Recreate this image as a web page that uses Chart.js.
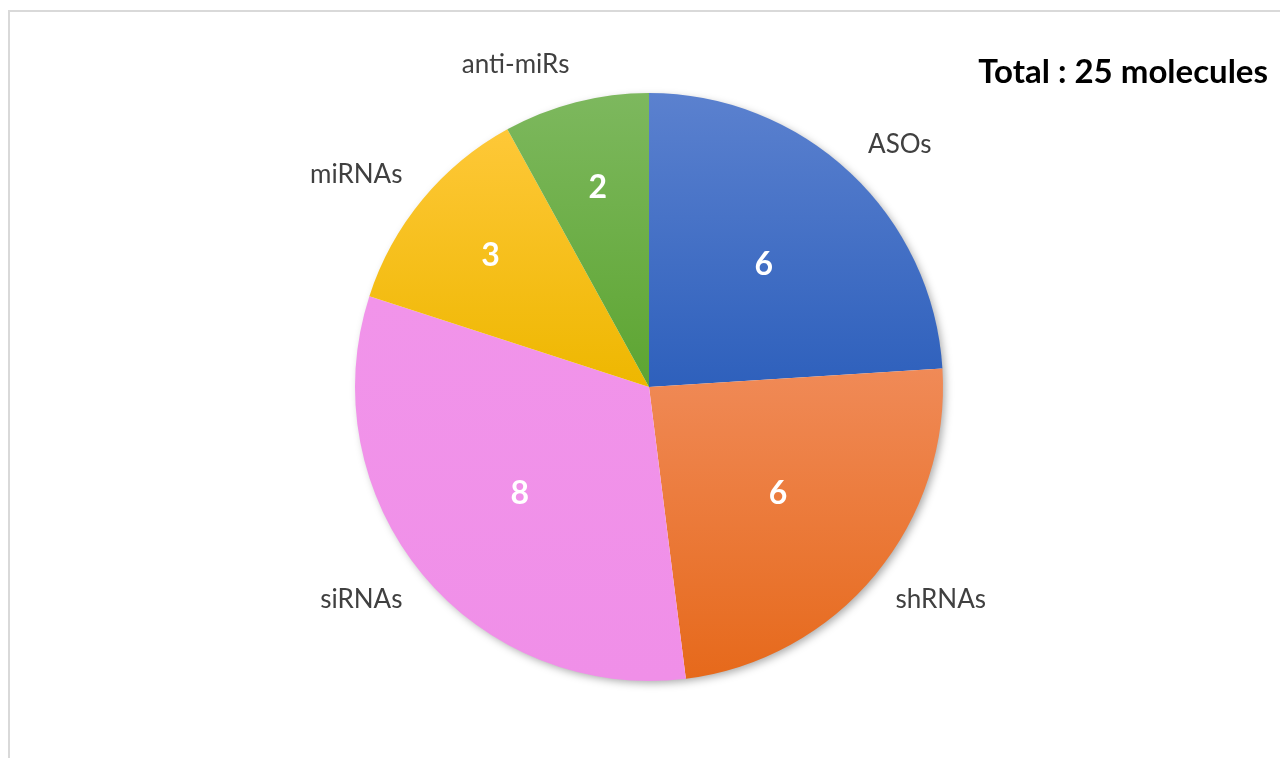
<!DOCTYPE html>
<html>
<head>
<meta charset="utf-8">
<script src="https://cdn.jsdelivr.net/npm/chart.js@4"></script>
<style>
  html, body { margin: 0; padding: 0; background: #fff; }
  #wrap { position: relative; width: 1280px; height: 758px; overflow: hidden; }
  #frame { position: absolute; left: 8px; top: 10px; right: -4px; bottom: -4px;
           border-top: 2px solid #d9d9d9; border-left: 2px solid #d9d9d9; }
  canvas { position: absolute; left: 0; top: 0; }
</style>
</head>
<body>
<div id="wrap">
  <div id="frame"></div>
  <canvas id="myChart" width="1280" height="758"></canvas>
</div>
<script>
// data
const categories = ['ASOs', 'shRNAs', 'siRNAs', 'miRNAs', 'anti-miRs'];
const counts = [6, 6, 8, 3, 2];
const topColors = ['#5b81cf', '#f08a57', '#f194ea', '#fec838', '#7db85e'];
const bottomColors = ['#2e60bc', '#e6691b', '#f08fe8', '#eeb700', '#5da531'];

const total = counts.reduce((a, b) => a + b, 0);
const ctx = document.getElementById('myChart').getContext('2d');
const FONT = 'Lato, "Open Sans", sans-serif';

// vertical gradient over each slice's own bounding box
const sliceGradient = (context) => {
    const chart = context.chart;
    const area = chart.chartArea;
    const i = context.dataIndex;
    if (!area || i === undefined) return topColors[i] || '#ccc';
    const cx = (area.left + area.right) / 2;
    const cy = (area.top + area.bottom) / 2;
    const r = Math.min(area.right - area.left, area.bottom - area.top) / 2;
    let before = 0;
    for (let k = 0; k < i; k++) before += counts[k];
    const a0 = -Math.PI / 2 + before / total * 2 * Math.PI;
    const a1 = a0 + counts[i] / total * 2 * Math.PI;
    let ys = [cy, cy + r * Math.sin(a0), cy + r * Math.sin(a1)];
    [-Math.PI / 2, Math.PI / 2, 3 * Math.PI / 2].forEach(a => {
        if (a >= a0 && a <= a1) ys.push(cy + r * Math.sin(a));
    });
    const g = chart.ctx.createLinearGradient(0, Math.min(...ys), 0, Math.max(...ys));
    g.addColorStop(0, topColors[i]);
    g.addColorStop(1, bottomColors[i]);
    return g;
};

const pieShadow = {
    id: 'pieShadow',
    beforeDatasetsDraw(chart) {
        const arc = chart.getDatasetMeta(0).data[0];
        if (!arc) return;
        const c = chart.ctx;
        c.save();
        c.shadowColor = 'rgba(0,0,0,0.35)';
        c.shadowBlur = 8;
        c.shadowOffsetX = 3;
        c.shadowOffsetY = 3;
        c.fillStyle = '#fff';
        c.beginPath();
        c.arc(arc.x, arc.y, arc.outerRadius - 1, 0, Math.PI * 2);
        c.fill();
        c.restore();
    }
};

const sliceLabels = {
    id: 'sliceLabels',
    afterDatasetsDraw(chart) {
        const c = chart.ctx;
        const meta = chart.getDatasetMeta(0);
        c.save();
        c.textAlign = 'center';
        c.textBaseline = 'middle';
        meta.data.forEach((arc, i) => {
            const p = arc.getProps(['x', 'y', 'startAngle', 'endAngle', 'outerRadius'], true);
            const mid = (p.startAngle + p.endAngle) / 2;
            const cos = Math.cos(mid), sin = Math.sin(mid);

            // value inside
            const f = counts[i] / total < 0.15 ? 0.7 : 0.57;
            c.fillStyle = '#ffffff';
            c.font = 'bold 32px ' + FONT;
            c.fillText(String(counts[i]), p.x + cos * p.outerRadius * f, p.y + sin * p.outerRadius * f);

            // category outside
            c.font = '26px ' + FONT;
            c.fillStyle = '#404040';
            const hw = c.measureText(categories[i]).width / 2;
            const tx = p.x + cos * (p.outerRadius + 26) + Math.sign(cos) * hw;
            const ty = p.y + sin * (p.outerRadius + 39);
            c.fillText(categories[i], tx, ty);
        });

        c.font = 'bold 33px ' + FONT;
        c.fillStyle = '#000000';
        c.textAlign = 'right';
        c.fillText('Total : ' + total + ' molecules', 1268, 72);
        c.restore();
    }
};

var myChart = new Chart(ctx, {
    type: 'pie',
    data: {
        labels: categories,
        datasets: [{
            data: counts,
            backgroundColor: sliceGradient,
            borderWidth: 0
        }]
    },
    options: {
        responsive: false,
        animation: false,
        layout: { padding: { left: 18, right: 0, top: 93, bottom: 77 } },
        plugins: {
            legend: { display: false },
            tooltip: { enabled: false }
        }
    },
    plugins: [pieShadow, sliceLabels]
});
</script>
</body>
</html>
